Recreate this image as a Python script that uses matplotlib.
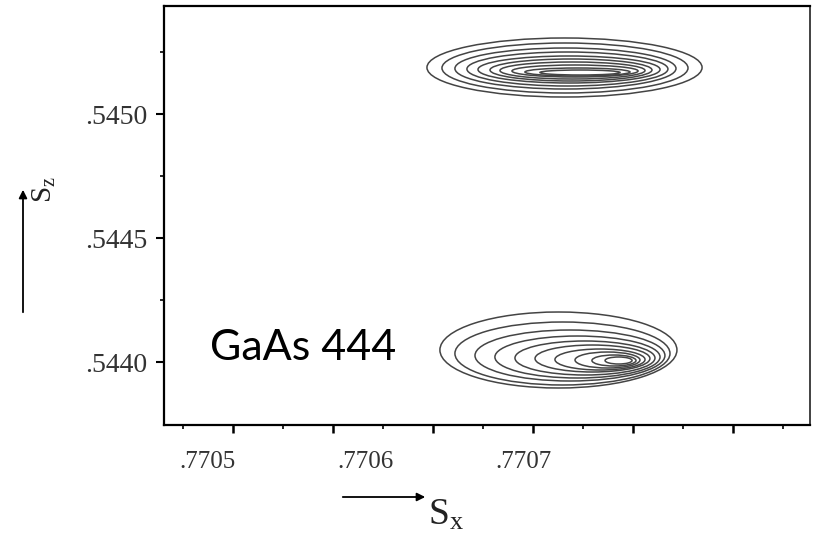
import numpy as np
import matplotlib.pyplot as plt
from matplotlib.patches import Ellipse

plt.rcParams["mathtext.fontset"] = "custom"
plt.rcParams["mathtext.rm"] = "Liberation Serif"
plt.rcParams["mathtext.it"] = "Liberation Serif:italic"

# contour rings (outer -> inner), in S_x / S_z units
top_left = [.7706386, .7706481, .7706563, .7706639, .7706709,
            .7706785, .7706848, .7706924, .7707006, .7707101]
top_right = [.7708127, .7708038, .7707962, .7707911, .7707861,
             .7707810, .7707766, .7707722, .7707671, .7707608]
top_upper = [.5453065, .5452863, .5452661, .5452500, .5452339,
             .5452218, .5452097, .5451976, .5451855, .5451774]
top_lower = [.5450685, .5450847, .5451008, .5451129, .5451250,
             .5451331, .5451411, .5451492, .5451532, .5451573]

bot_left = [.7706468, .7706563, .7706690, .7706816, .7706943,
            .7707070, .7707196, .7707323, .7707430, .7707513]
bot_right = [.7707968, .7707924, .7707892, .7707861, .7707829,
             .7707797, .7707766, .7707734, .7707709, .7707684]
bot_upper = [.5442016, .5441613, .5441290, .5441048, .5440847,
             .5440685, .5440524, .5440403, .5440282, .5440202]
bot_lower = [.5438952, .5439073, .5439234, .5439355, .5439476,
             .5439597, .5439677, .5439758, .5439839, .5439919]

x_labels = [.7705, .7706, .7707]
y_labels = [.5440, .5445, .5450]

fig = plt.figure(figsize=(8.16, 5.37), dpi=100)
ax = fig.add_axes([164 / 816, 1 - 425 / 537, (810 - 164) / 816, (425 - 6) / 537])

for L, R, U, D in [(top_left, top_right, top_upper, top_lower),
                   (bot_left, bot_right, bot_upper, bot_lower)]:
    for l, r, u, d in zip(L, R, U, D):
        ax.add_patch(Ellipse(((l + r) / 2, (u + d) / 2), r - l, u - d,
                             fill=False, ec="#444444", lw=1.1))

ax.set_xlim(.7704722, .7708810)
ax.set_ylim(.5437460, .5454355)

# y axis
ax.set_yticks(y_labels)
ax.set_yticklabels([("%.4f" % v)[1:] for v in y_labels])
ax.set_yticks([.54425, .54475, .54525], minor=True)
ax.tick_params(axis="y", which="major", direction="out", length=6, width=1.5,
               labelsize=20, pad=6, labelcolor="#333333")
ax.tick_params(axis="y", which="minor", direction="out", length=3, width=1.2)

# x axis: tick marks on their own grid, labels on a secondary axis
step = 50 / 1.58e6
big = .7705158 + 2 * step * np.arange(6)
small = .7704842 + 2 * step * np.arange(7)
ax.set_xticks(big)
ax.set_xticklabels([])
ax.set_xticks(small, minor=True)
ax.tick_params(axis="x", which="major", direction="out", length=6, width=1.8)
ax.tick_params(axis="x", which="minor", direction="out", length=3, width=1.2)

sec = ax.secondary_xaxis("bottom")
sec.set_xticks(x_labels)
sec.set_xticklabels([("%.4f" % v)[1:] for v in x_labels])
sec.tick_params(length=0, labelsize=18, pad=19, labelcolor="#333333")
sec.spines["bottom"].set_visible(False)

for t in ax.get_yticklabels() + sec.get_xticklabels():
    t.set_fontfamily("Liberation Serif")

for s in ["left", "bottom", "top"]:
    ax.spines[s].set_linewidth(1.6)
ax.spines["right"].set_linewidth(1.3)
ax.spines["right"].set_color("#333333")

# axis labels with arrows
ax.annotate("", xy=(23, 537 - 187), xytext=(23, 537 - 315), xycoords="figure pixels",
            arrowprops=dict(arrowstyle="-|>", color="black", lw=1.3, mutation_scale=12))
fig.text(44 / 816, 1 - 190 / 537, r"$\mathrm{S}_\mathrm{z}$", rotation=90, ha="center",
         va="center", fontsize=21, color="#222222")
ax.annotate("", xy=(428, 537 - 497), xytext=(340, 537 - 497), xycoords="figure pixels",
            arrowprops=dict(arrowstyle="-|>", color="black", lw=1.3, mutation_scale=12))
fig.text(446 / 816, 1 - 515 / 537, r"$\mathrm{S}_\mathrm{x}$", ha="center", va="center",
         fontsize=27, color="#222222")

fig.text(210 / 816, 1 - 360 / 537, "GaAs 444", ha="left", va="baseline",
         fontsize=31, family="Lato", color="black")

fig.savefig("out.png", dpi=100)
